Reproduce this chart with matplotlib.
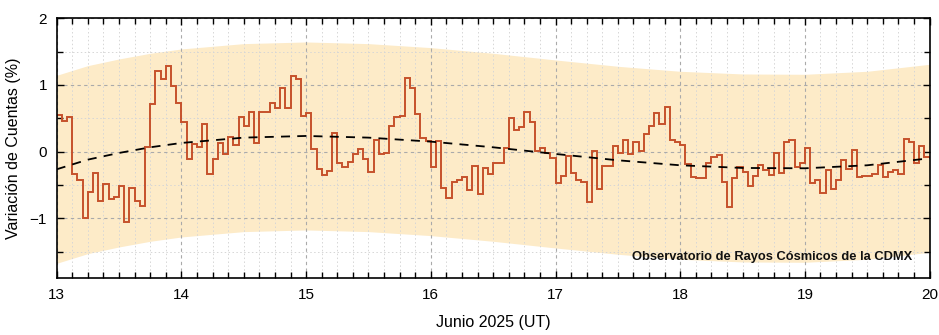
import numpy as np
import matplotlib
matplotlib.use("Agg")
import matplotlib.pyplot as plt
from matplotlib.ticker import MultipleLocator

plt.rcParams['font.family'] = ['Liberation Sans', 'DejaVu Sans']

# Hourly count variation (%) from 13 Jun 2025 00 UT to 20 Jun 2025 00 UT
start_day = 13
variation = [
    0.55, 0.465, 0.525, -0.34, -0.425, -0.99, -0.60, -0.325, -0.74, -0.49,
    -0.71, -0.685, -0.515, -1.05, -0.54, -0.74, -0.81, 0.075, 0.71, 1.21,
    1.085, 1.285, 0.99, 0.725, 0.45, -0.115, 0.12, 0.065, 0.415, -0.335,
    -0.115, 0.125, -0.04, 0.225, 0.095, 0.52, 0.38, 0.60, 0.135, 0.59,
    0.59, 0.735, 0.66, 0.96, 0.66, 1.13, 1.085, 0.535, 0.575, 0.035,
    -0.265, -0.35, -0.29, 0.285, -0.175, -0.225, -0.155, -0.03, 0.045, -0.115,
    -0.31, 0.17, -0.035, -0.02, 0.385, 0.515, 0.54, 1.105, 0.95, 0.565,
    0.20, 0.16, -0.23, 0.16, -0.55, -0.70, -0.46, -0.42, -0.38, -0.575,
    -0.22, -0.64, -0.245, -0.335, -0.178, -0.175, 0.05, 0.50, 0.32, 0.37,
    0.60, 0.44, 0.005, 0.06, -0.025, -0.10, -0.475, -0.365, -0.065, -0.325,
    -0.42, -0.45, -0.75, 0.01, -0.56, -0.22, -0.22, 0.09, -0.025, 0.18,
    -0.035, 0.15, 0.005, 0.27, 0.38, 0.58, 0.42, 0.665, 0.175, 0.15,
    0.105, -0.18, -0.38, -0.40, -0.40, -0.165, -0.075, -0.055, -0.45, -0.83,
    -0.39, -0.235, -0.30, -0.515, -0.36, -0.195, -0.275, -0.35, -0.015, -0.315,
    0.15, 0.18, -0.235, -0.165, 0.05, -0.47, -0.425, -0.625, -0.27, -0.56,
    -0.425, -0.12, -0.265, 0.03, -0.375, -0.36, -0.37, -0.335, -0.20, -0.385,
    -0.30, -0.28, -0.34, 0.19, 0.14, -0.17, 0.085, -0.08,
]

# Trend curve (dashed) read at selected days, and band half width (%)
trend_days = [13.0, 13.25, 13.5, 13.75, 14.0, 14.5, 15.0, 15.5, 16.0, 16.5,
              17.0, 17.5, 18.0, 18.5, 19.0, 19.5, 20.0]
trend_vals = [-0.265, -0.12, -0.02, 0.065, 0.13, 0.21, 0.235, 0.21, 0.15, 0.065,
              -0.035, -0.13, -0.205, -0.245, -0.25, -0.205, -0.10]
band_halfwidth = 1.41

x_ticks = [13, 14, 15, 16, 17, 18, 19, 20]
y_ticks = [-1, 0, 1, 2]

fig = plt.figure(figsize=(9.39, 3.35), dpi=100)
ax = fig.add_axes([0.0604, 0.1693, 0.9296, 0.7761])

edges = start_day + np.arange(len(variation) + 1) / 24.0
td = np.array(trend_days)
tv = np.array(trend_vals)

ax.fill_between(td, tv - band_halfwidth, tv + band_halfwidth,
                color='#fdebc8', linewidth=0, zorder=0.2)
ax.stairs(variation, edges, baseline=None, color='#c6512b', linewidth=1.4, zorder=2)
ax.plot(td, tv, color='black', linestyle=(0, (5, 4)), linewidth=1.3, zorder=3)

ax.set_xlim(13, 20)
ax.set_ylim(-1.9, 2.0)
ax.set_xticks(x_ticks)
ax.set_yticks(y_ticks)
ax.xaxis.set_minor_locator(MultipleLocator(0.125))
ax.yaxis.set_minor_locator(MultipleLocator(0.5))

ax.set_axisbelow(True)
ax.grid(which='major', color='#aaaaaa', linestyle=(0, (3, 3)), linewidth=0.8)
ax.grid(which='minor', color='#d6d6d6', linestyle=(0, (1.5, 2.5)), linewidth=0.7)

ax.tick_params(which='both', direction='in', top=True, right=True, width=1.0,
               labelsize=11, colors='black')
ax.tick_params(which='major', length=5, pad=7)
ax.tick_params(which='minor', length=4)
for s in ax.spines.values():
    s.set_linewidth(1.2)
    s.set_color('black')

ax.set_xlabel('Junio 2025 (UT)', fontsize=11.5, labelpad=9)
ax.set_ylabel('Variación de Cuentas (%)', fontsize=11.5, labelpad=6)

ax.text(0.9796, 0.083, 'Observatorio de Rayos Cósmicos de la CDMX',
        transform=ax.transAxes, ha='right', va='center',
        fontsize=9.3, fontweight='bold', color='#111111', zorder=4)

fig.savefig('out.png', dpi=100)
